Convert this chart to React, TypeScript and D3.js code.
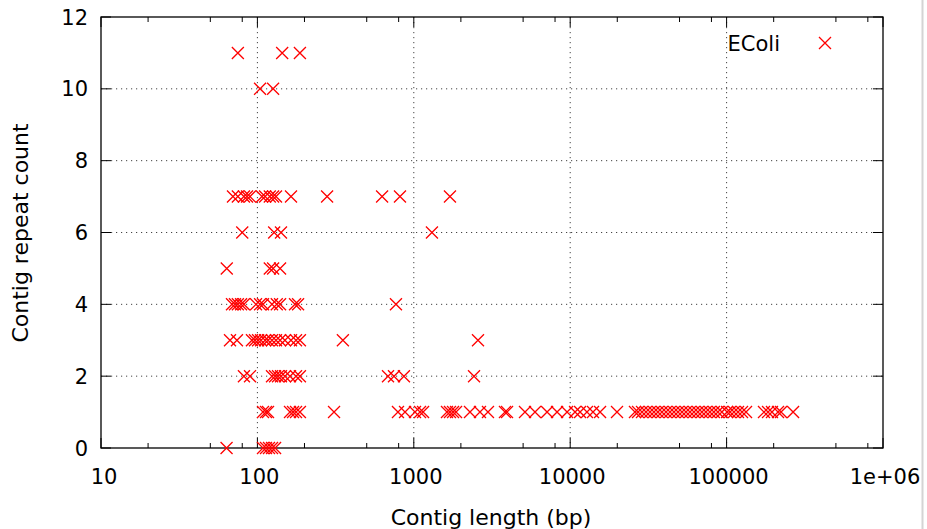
import React from "react";
import * as d3 from "d3";

// Contig length (bp) for each repeat count
const row0 = [63.5, 108.6, 113.5, 118.6, 124, 129.7];
const row1 = [108.6, 113.5, 116.9, 161.6, 169, 176.6, 187, 309, 792, 879, 1018, 1096, 1146, 1630, 1703, 1782, 1862, 2287, 2649, 2980, 3828, 3945, 5140, 5957, 7112, 8240, 9550, 10740, 11560, 12800, 13990, 15520, 19920, 25950, 27150, 28780, 30530, 32370, 34330, 36400, 38610, 41000, 43450, 46100, 48900, 51860, 54990, 58320, 61850, 65590, 69560, 73770, 78230, 82970, 87990, 93300, 100700, 105200, 111500, 118300, 125500, 133100, 173400, 184000, 195000, 213200, 222900, 266100];
const row2 = [82, 89.7, 124, 129.7, 135.5, 141.5, 150, 161.6, 176.6, 187, 684, 747, 865, 2427];
const row3 = [66.8, 74, 92.3, 96.5, 101, 105.5, 112, 117, 124, 131.5, 139.6, 150, 164, 176.6, 187, 352, 2573];
const row4 = [68.8, 71.9, 75, 78.6, 82, 98, 104, 108.6, 124, 133, 139.6, 174, 182, 769];
const row5 = [63.7, 120, 126, 139.6];
const row6 = [80, 128, 141.5, 1306];
const row7 = [69.8, 75, 82, 85.8, 89.7, 107, 112, 120, 126, 131.5, 164, 279, 627, 816, 1703];
const row10 = [104, 126];
const row11 = [75, 144, 187];

const rows: [number, number[]][] = [
  [0, row0], [1, row1], [2, row2], [3, row3], [4, row4], [5, row5],
  [6, row6], [7, row7], [10, row10], [11, row11],
];

const xTicks = [10, 100, 1000, 10000, 100000, 1000000];
const xTickLabels = ["10", "100", "1000", "10000", "100000", "1e+06"];
const yTicks = [0, 2, 4, 6, 8, 10, 12];
const minorMultipliers = [2, 5, 8];

const W = 927, H = 529;
const L = 101, R = 883, T = 17, B = 448;
const FONT = "DejaVu Sans, sans-serif";
const FS = 21;
const FT = 22;

export default function App() {
  const x = d3.scaleLog().domain([10, 1e6]).range([L, R]);
  const y = d3.scaleLinear().domain([0, 12]).range([B, T]);

  const points: { px: number; py: number }[] = [];
  rows.forEach(([cnt, arr]) => arr.forEach((v) => points.push({ px: x(v), py: y(cnt) })));

  const minor: number[] = [];
  for (let d = 10; d < 1e6; d *= 10) minorMultipliers.forEach((m) => minor.push(d * m));

  const s = 6;
  const cross = (cx: number, cy: number, key: string) => (
    <path key={key} d={`M${cx - s},${cy - s}L${cx + s},${cy + s}M${cx - s},${cy + s}L${cx + s},${cy - s}`} stroke="#ff0000" strokeWidth={1.3} fill="none" />
  );

  const gridStyle = { stroke: "#444", strokeWidth: 1, strokeDasharray: "1.2,3.8" };

  return (
    <svg width={W} height={H} style={{ position: "absolute", left: 0, top: 0, background: "#fff" }} fontFamily={FONT}>
      <rect x={0} y={0} width={W} height={H} fill="#fff" />
      <line x1={922.5} x2={922.5} y1={0} y2={H} stroke="#d4d4d4" strokeWidth={2} />
      {/* grid */}
      {yTicks.filter((t) => t > 0 && t < 12).map((t) => (
        <line key={"gy" + t} x1={L} x2={R} y1={y(t)} y2={y(t)} {...gridStyle} />
      ))}
      {xTicks.filter((t) => t > 10 && t < 1e6).map((t) => (
        <line key={"gx" + t} x1={x(t)} x2={x(t)} y1={T} y2={B} {...gridStyle} />
      ))}
      {/* ticks */}
      {yTicks.map((t) => (
        <g key={"ty" + t}>
          <line x1={L} x2={L + 10} y1={y(t)} y2={y(t)} stroke="#000" />
          <line x1={R} x2={R - 10} y1={y(t)} y2={y(t)} stroke="#000" />
          <text x={88} y={y(t)} dy="0.36em" textAnchor="end" fontSize={FS}>{t}</text>
        </g>
      ))}
      {xTicks.map((t, i) => (
        <g key={"tx" + t}>
          <line x1={x(t)} x2={x(t)} y1={B} y2={B - 10} stroke="#000" />
          <line x1={x(t)} x2={x(t)} y1={T} y2={T + 10} stroke="#000" />
          <text x={x(t) + (i === 0 ? 3 : 2)} y={476} dy="0.36em" textAnchor="middle" fontSize={FS}>{xTickLabels[i]}</text>
        </g>
      ))}
      {minor.map((t) => (
        <g key={"mx" + t}>
          <line x1={x(t)} x2={x(t)} y1={B} y2={B - 5} stroke="#000" />
          <line x1={x(t)} x2={x(t)} y1={T} y2={T + 5} stroke="#000" />
        </g>
      ))}
      <rect x={L} y={T} width={R - L} height={B - T} fill="none" stroke="#000" strokeWidth={1.3} />
      {/* points */}
      {points.map((p, i) => cross(p.px, p.py, "p" + i))}
      {/* legend */}
      <text x={780} y={43} dy="0.36em" textAnchor="end" fontSize={FS}>EColi</text>
      {cross(825, 43, "leg")}
      {/* axis titles */}
      <text x={491} y={517} dy="0.36em" textAnchor="middle" fontSize={FT}>Contig length (bp)</text>
      <text transform={`translate(20,233) rotate(-90)`} dy="0.36em" textAnchor="middle" fontSize={FT}>Contig repeat count</text>
    </svg>
  );
}
